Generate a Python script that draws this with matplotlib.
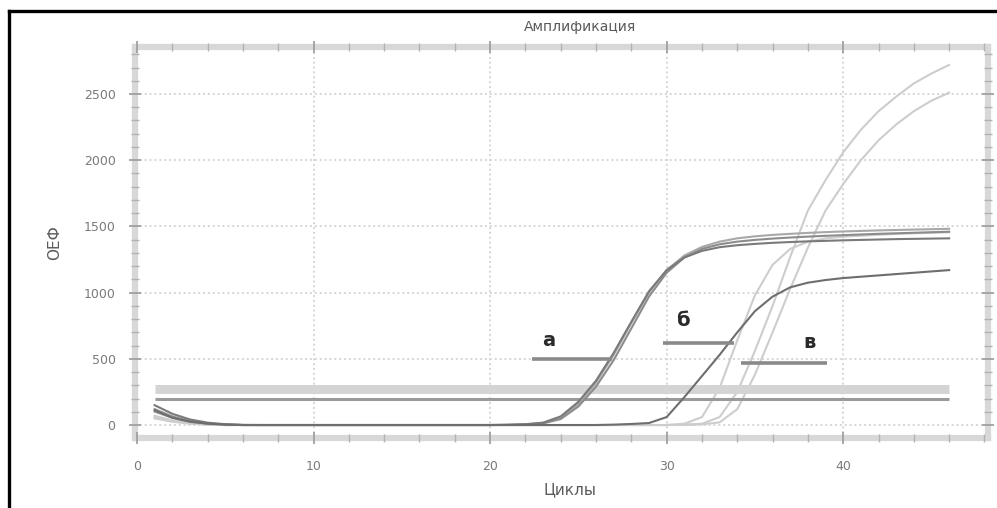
import numpy as np
import matplotlib.pyplot as plt
from matplotlib.lines import Line2D
from matplotlib.ticker import MultipleLocator

plt.rcParams['font.family'] = ['DejaVu Sans']

# Amplification data (fluorescence per cycle)
cycles = list(range(1, 47))

curve_a1 = [150, 85, 42, 18, 6, 1, 0, 0, 0, 0,
            0, 0, 0, 0, 0, 0, 0, 0, 0, 0,
            2, 6, 18, 65, 175, 335, 545, 780, 1010, 1170,
            1265, 1315, 1343, 1358, 1368, 1376, 1382, 1387, 1391, 1395,
            1398, 1401, 1404, 1406, 1408, 1410]
curve_a2 = [120, 65, 30, 12, 4, 0, 0, 0, 0, 0,
            0, 0, 0, 0, 0, 0, 0, 0, 0, 0,
            1, 4, 12, 45, 140, 290, 490, 730, 970, 1150,
            1265, 1330, 1365, 1385, 1398, 1408, 1416, 1423, 1429, 1434,
            1439, 1444, 1448, 1452, 1456, 1460]
curve_a3 = [100, 55, 25, 10, 3, 0, 0, 0, 0, 0,
            0, 0, 0, 0, 0, 0, 0, 0, 0, 0,
            1, 5, 15, 55, 160, 320, 530, 770, 1000, 1170,
            1280, 1345, 1385, 1410, 1425, 1436, 1444, 1451, 1457, 1462,
            1466, 1470, 1473, 1476, 1479, 1482]
curve_b1 = [110, 55, 25, 10, 3, 0, 0, 0, 0, 0,
            0, 0, 0, 0, 0, 0, 0, 0, 0, 0,
            0, 0, 0, 0, 0, 0, 3, 8, 15, 60,
            210, 370, 530, 700, 860, 970, 1040, 1075, 1095, 1110,
            1120, 1130, 1140, 1150, 1160, 1170]
curve_c1 = [60, 30, 12, 4, 0, 0, 0, 0, 0, 0,
            0, 0, 0, 0, 0, 0, 0, 0, 0, 0,
            0, 0, 0, 0, 0, 0, 0, 0, 0, 0,
            3, 10, 60, 250, 560, 900, 1270, 1620, 1850, 2060,
            2230, 2370, 2480, 2580, 2655, 2720]
curve_c2 = [50, 25, 10, 3, 0, 0, 0, 0, 0, 0,
            0, 0, 0, 0, 0, 0, 0, 0, 0, 0,
            0, 0, 0, 0, 0, 0, 0, 0, 0, 0,
            0, 5, 20, 120, 380, 700, 1030, 1340, 1620, 1820,
            2000, 2150, 2270, 2370, 2450, 2510]
curve_c3 = [70, 35, 15, 5, 0, 0, 0, 0, 0, 0,
            0, 0, 0, 0, 0, 0, 0, 0, 0, 0,
            0, 0, 0, 0, 0, 0, 0, 0, 0, 0,
            10, 60, 280, 640, 980, 1210, 1330, 1385, 1410, 1422,
            1430, 1437, 1443, 1448, 1452, 1456]

# threshold lines
threshold_band = 275
threshold_line = 195

# annotations: letter, text position, marker segment (x0, x1, y)
labels = ['а', 'б', 'в']
label_pos = [(23.3, 640), (30.9, 790), (38.1, 620)]
label_segments = [(22.4, 26.9, 500), (29.8, 33.8, 620), (34.2, 39.1, 470)]

title = 'Амплификация'
xlabel = 'Циклы'
ylabel = 'ОЕФ'

fig = plt.figure(figsize=(9.97, 5.08), dpi=100)
ax = fig.add_axes([135 / 997, 1 - 438 / 508, (988 - 135) / 997, (438 - 47) / 508])

ax.set_xlim(-0.11, 48.2)
ax.set_ylim(-98, 2855)

# grid
ax.xaxis.set_major_locator(MultipleLocator(10))
ax.xaxis.set_minor_locator(MultipleLocator(2))
ax.yaxis.set_major_locator(MultipleLocator(500))
ax.yaxis.set_minor_locator(MultipleLocator(100))
ax.grid(True, which='major', color='#d6d6d6', linestyle=(0, (1, 1.5)), linewidth=1.4)
ax.set_axisbelow(True)

# light curves
for ys in [curve_c1, curve_c2, curve_c3]:
    ax.plot(cycles, ys, color='#cdcdcd', linewidth=1.5, zorder=2)

# thresholds
ax.plot([cycles[0], cycles[-1]], [threshold_band, threshold_band],
        color='#d4d4d4', linewidth=6.5, solid_capstyle='butt', zorder=2.5)
ax.plot([cycles[0], cycles[-1]], [threshold_line, threshold_line],
        color='#9a9a9a', linewidth=2.2, solid_capstyle='butt', zorder=2.5)

# dark curves
ax.plot(cycles, curve_a3, color='#a8a8a8', linewidth=1.5, zorder=3)
ax.plot(cycles, curve_a2, color='#8c8c8c', linewidth=1.5, zorder=3)
ax.plot(cycles, curve_a1, color='#7a7a7a', linewidth=1.5, zorder=3)
ax.plot(cycles, curve_b1, color='#6e6e6e', linewidth=1.5, zorder=3)

# letters with marker segments
for lab, (tx, ty), (x0, x1, y) in zip(labels, label_pos, label_segments):
    ax.plot([x0, x1], [y, y], color='#8a8a8a', linewidth=2.6,
            solid_capstyle='butt', zorder=4)
    ax.text(tx, ty, lab, fontsize=14, fontweight='bold', color='#2a2a2a',
            ha='center', va='center', zorder=5)

# ruler-like spines, ticks drawn on top of them
for side in ['left', 'right', 'top', 'bottom']:
    ax.spines[side].set_color('#d8d8d8')
    ax.spines[side].set_linewidth(4.5)
    ax.spines[side].set_zorder(0.3)
ax.tick_params(which='major', direction='inout', length=8, width=1.3,
               color='#a0a0a0', labelcolor='#7a7a7a', labelsize=9,
               top=True, right=True, labeltop=False, labelright=False)
ax.tick_params(which='minor', direction='inout', length=6, width=1.0,
               color='#b2b2b2', top=True, right=True)
ax.tick_params(axis='x', pad=12)
ax.tick_params(axis='y', pad=10)

fig.text(580 / 997, 1 - 27 / 508, title, ha='center', va='center',
         fontsize=10, color='#5a5a5a')
fig.text(570 / 997, 1 - 490 / 508, xlabel, ha='center', va='center',
         fontsize=11, color='#5a5a5a')
fig.text(55 / 997, 1 - 243 / 508, ylabel, ha='center', va='center',
         rotation=90, fontsize=11, color='#5a5a5a')

# black frame of the screenshot (top and left)
fig.add_artist(Line2D([9 / 997, 1.0], [1 - 11 / 508, 1 - 11 / 508],
                      color='black', linewidth=2.4, transform=fig.transFigure))
fig.add_artist(Line2D([9 / 997, 9 / 997], [0, 1 - 11 / 508],
                      color='black', linewidth=2.4, transform=fig.transFigure))

fig.savefig('out.png', dpi=100)
